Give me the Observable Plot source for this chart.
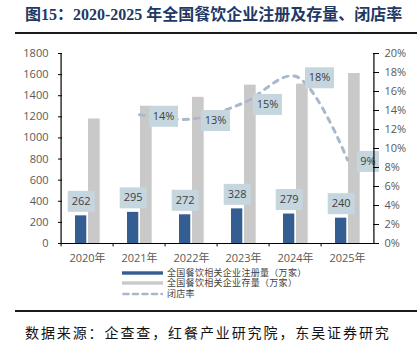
<!DOCTYPE html>
<html><head><meta charset="utf-8">
<script src="https://cdn.jsdelivr.net/npm/d3@7"></script>
<script src="https://cdn.jsdelivr.net/npm/@observablehq/plot@0.6"></script>
<style>
body{margin:0;background:#fff;width:418px;height:349px;position:relative;overflow:hidden;font-family:"Noto Sans CJK SC",sans-serif}
#title{position:absolute;left:25px;top:4px;font-size:16px;font-weight:bold;color:#1f3864;font-family:"Liberation Serif","Noto Sans CJK SC",serif;white-space:nowrap;line-height:22px}
.rule{position:absolute;left:15px;width:402px;height:2px;background:#1a1a1a}
#chart{position:absolute;left:0;top:40px}
#legend{position:absolute;left:122px;top:267.5px;font-family:"Liberation Sans","Noto Sans CJK SC",sans-serif;font-size:9px;line-height:10.5px;color:#404040;white-space:nowrap}
#legend .row{display:flex;align-items:center;height:10.5px}
#legend .row span{display:inline-block;height:10.5px;line-height:10.5px;overflow:visible;letter-spacing:0.3px}
#legend svg{margin-right:4px;flex:none}
#source{position:absolute;left:25px;top:321px;font-size:14px;line-height:22px;letter-spacing:1.9px;color:#111;white-space:nowrap}
</style></head><body>
<div id="title">图15：2020-2025 年全国餐饮企业注册及存量、闭店率</div>
<div class="rule" style="top:32px"></div>
<div id="chart"></div>
<div id="legend"></div>
<div class="rule" style="top:310px"></div>
<div id="source">数据来源：企查查，红餐产业研究院，东吴证券研究</div>
<script>
// ---- data ----
const years = ["2020年","2021年","2022年","2023年","2024年","2025年"];
const registered = [262, 295, 272, 328, 279, 240];       // 万家
const stock = [1180, 1300, 1385, 1500, 1510, 1610];       // 万家
const rateYears = ["2021年","2022年","2023年","2024年","2025年"];
const closeRate = [13.55, 13.1, 14.8, 17.6, 8.8];         // %
const leftTicks = [0, 200, 400, 600, 800, 1000, 1200, 1400, 1600, 1800];
const rightTicks = [0, 2, 4, 6, 8, 10, 12, 14, 16, 18, 20]; // %
const seriesNames = ["全国餐饮相关企业注册量（万家）", "全国餐饮相关企业存量（万家）", "闭店率"];

// ---- layout ----
const W = 418, H = 228, mL = 58, mR = 43, mT = 13, mB = 25;
const bw = (W - mL - mR) / years.length;
const PCT = 1800 / 20; // shared y units per percent (20% ↔ 1800)
const cBlue = "#345d91", cGray = "#c9c9c9", cLine = "#aab8cd", cBox = "#c5d6df";

const bars = years.map((year, i) => ({year, reg: registered[i], stock: stock[i]}));
const rates = rateYears.map((year, i) => ({year, v: closeRate[i] * PCT, label: Math.round(closeRate[i]) + "%"}));
const box = (w, h) => ({draw(ctx) { ctx.rect(-w / 2, -h / 2, w, h); }});
const wide = d => d.label.length === 3;
const narrow = d => d.label.length !== 3;

const chart = Plot.plot({
  width: W, height: H, marginLeft: mL, marginRight: mR, marginTop: mT, marginBottom: mB,
  x: {type: "band", domain: years, padding: 0},
  y: {domain: [0, 1800]},
  style: {fontFamily: '"Open Sans","Noto Sans CJK SC",sans-serif', fontSize: "11px", color: "#595959", background: "transparent", overflow: "visible"},
  marks: [
    Plot.barY(bars, {x: "year", y: "stock", fill: cGray, insetLeft: bw / 2 + 0.6, insetRight: bw / 2 - 13.1}),
    Plot.barY(bars, {x: "year", y: "reg", fill: cBlue, insetLeft: bw / 2 - 12.4, insetRight: bw / 2 + 0.3}),
    Plot.line(rates, {x: "year", y: "v", curve: "catmull-rom", stroke: cLine, strokeWidth: 3, strokeDasharray: "5,6", strokeLinecap: "round"}),
    Plot.dot(bars, {x: "year", y: "reg", dx: -6.3, dy: -14.5, r: 5, symbol: box(27, 21), fill: cBox}),
    Plot.text(bars, {x: "year", y: "reg", text: d => String(d.reg), dx: -6.3, dy: -14.5, fill: "#404040", fontSize: 11}),
    Plot.dot(rates, {filter: wide, x: "year", y: "v", dx: 24, dy: 1.5, r: 5, symbol: box(29, 21), fill: cBox}),
    Plot.dot(rates, {filter: narrow, x: "year", y: "v", dx: 20.5, dy: 1.5, r: 5, symbol: box(22, 21), fill: cBox}),
    Plot.text(rates, {filter: wide, x: "year", y: "v", text: "label", dx: 24, dy: 1.5, fill: "#404040", fontSize: 11}),
    Plot.text(rates, {filter: narrow, x: "year", y: "v", text: "label", dx: 20.5, dy: 1.5, fill: "#404040", fontSize: 11}),
    // axis lines and ticks
    Plot.ruleY([0], {stroke: "#000", strokeWidth: 1.2}),
    Plot.ruleX([years[0]], {y1: 0, y2: 1800, dx: -bw / 2, stroke: "#000", strokeWidth: 1.2}),
    Plot.ruleX([years[years.length - 1]], {y1: 0, y2: 1800, dx: bw / 2, stroke: "#000", strokeWidth: 1.2}),
    Plot.ruleX(years, {y1: 0, y2: -32, dx: -bw / 2, stroke: "#000"}),
    Plot.axisX({tickSize: 0, tickPadding: 11, label: null, fill: "#595959"}),
    Plot.axisY({anchor: "left", ticks: leftTicks, tickFormat: d => String(d), tickSize: -4, tickPadding: 14, label: null, stroke: "#000", fill: "#595959"}),
    Plot.axisY({anchor: "right", ticks: rightTicks.map(p => p * PCT), tickFormat: d => Math.round(d / PCT) + "%", tickSize: 3, tickPadding: 6, label: null, stroke: "#000", fill: "#595959"}),
    Plot.axisY({anchor: "right", ticks: rightTicks.map(p => p * PCT), tickFormat: () => "", tickSize: -3, label: null, stroke: "#000"})
  ]
});
document.getElementById("chart").appendChild(chart);

// legend
const lg = document.getElementById("legend");
const sw = [
  `<svg width="41" height="10"><rect x="0" y="3.3" width="41" height="3.4" fill="${cBlue}"/></svg>`,
  `<svg width="41" height="10"><rect x="0" y="3.3" width="41" height="3.4" fill="${cGray}"/></svg>`,
  `<svg width="41" height="10"><line x1="1.5" y1="5" x2="40" y2="5" stroke="${cLine}" stroke-width="2.6" stroke-dasharray="5,4.5" stroke-linecap="round"/></svg>`
];
lg.innerHTML = seriesNames.map((n, i) => `<div class="row">${sw[i]}<span>${n}</span></div>`).join("");
</script>
</body></html>
